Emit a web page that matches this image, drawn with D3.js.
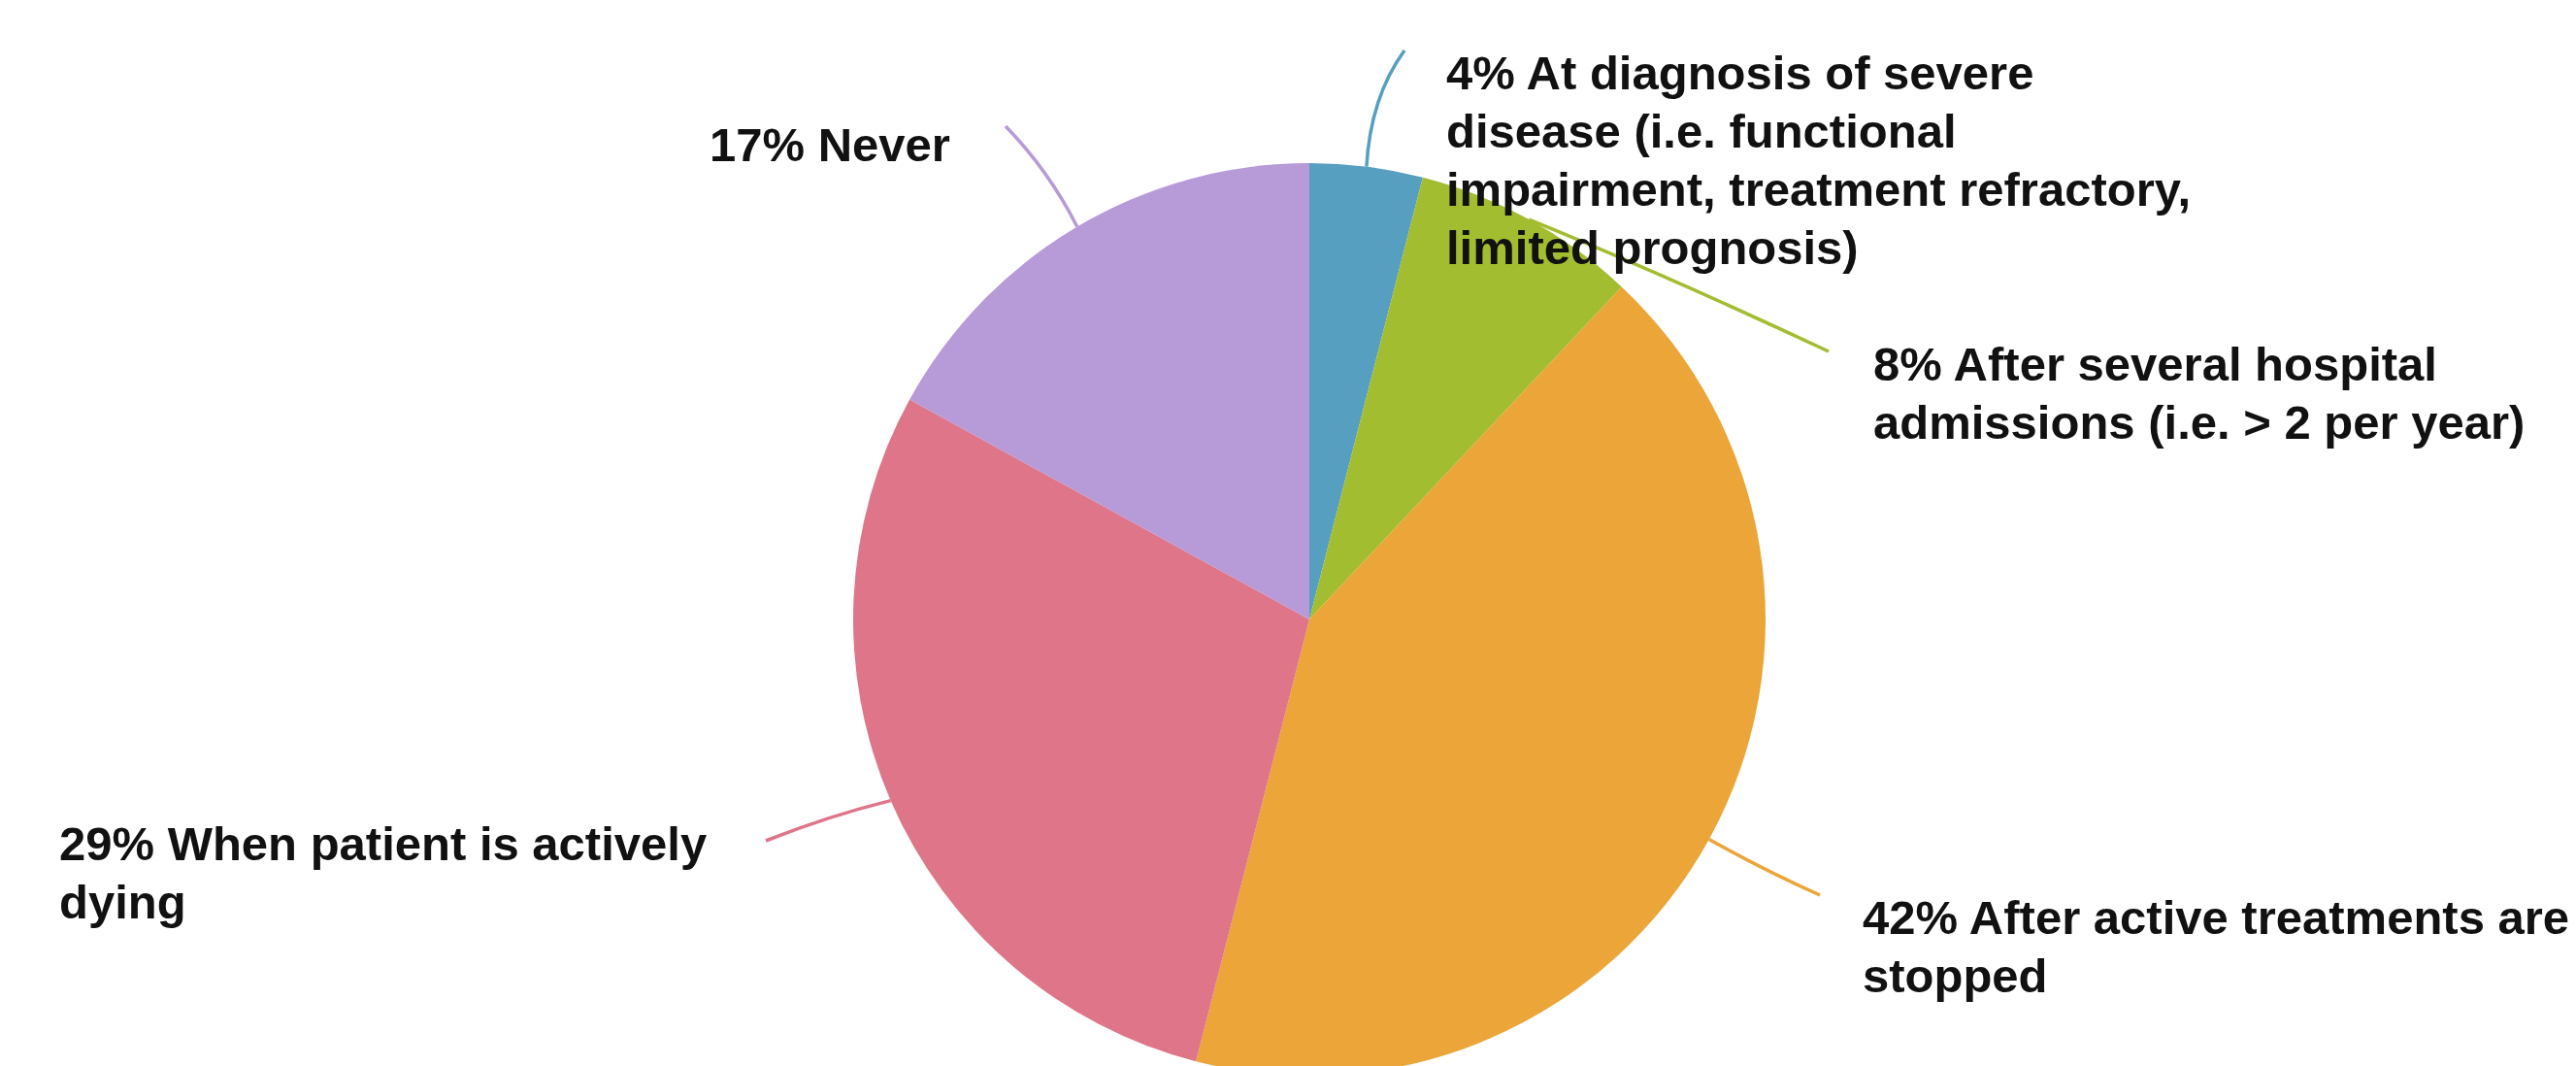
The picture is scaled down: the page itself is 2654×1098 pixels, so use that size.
<!DOCTYPE html>
<html>
<head>
<meta charset="utf-8">
<script src="https://cdn.jsdelivr.net/npm/d3@7"></script>
<style>
  html, body { margin: 0; padding: 0; background: #ffffff; }
  svg { display: block; }
  .label { font-family: "Liberation Sans", Arial, Helvetica, sans-serif; font-weight: bold; font-size: 49px; fill: #111111; }
</style>
</head>
<body>
<svg id="chart" width="2654" height="1098"></svg>
<script>
// Share of responses per timing category, clockwise from 12 o'clock
const categories = [
  "At diagnosis of severe disease (i.e. functional impairment, treatment refractory, limited prognosis)",
  "After several hospital admissions (i.e. > 2 per year)",
  "After active treatments are stopped",
  "When patient is actively dying",
  "Never"
];
const values = [4, 8, 42, 29, 17];

// Label text broken into display lines
const labelLines = [
  ["4% At diagnosis of severe", "disease (i.e. functional", "impairment, treatment refractory,", "limited prognosis)"],
  ["8% After several hospital", "admissions (i.e. > 2 per year)"],
  ["42% After active treatments are", "stopped"],
  ["29% When patient is actively", "dying"],
  ["17% Never"]
];

const colors = ["#569fc0", "#a3bd31", "#eba538", "#df7588", "#b79ad8"];

// Layout
const W = 2654, H = 1098;
const cx = 1349, cy = 638, R = 470;
const lineGap = 60;

// Label anchors (text start and first baseline) and leader end / bend points
const labelLayout = [
  { x: 1490, y: 92,  end: [1447, 52],  bend: [1412, 100] },
  { x: 1930, y: 392, end: [1884, 362], bend: [1720, 285] },
  { x: 1919, y: 962, end: [1875, 922], bend: [1815, 895] },
  { x: 61,   y: 886, end: [789, 866],  bend: [855, 840] },
  { x: 731,  y: 166, end: [1036, 130], bend: [1080, 175] }
];

const svg = d3.select("#chart");
const g = svg.append("g").attr("transform", `translate(${cx},${cy})`);

const pie = d3.pie().sort(null).value(d => d);
const arcs = pie(values);
const arc = d3.arc().innerRadius(0).outerRadius(R);

g.selectAll("path.slice")
  .data(arcs)
  .join("path")
  .attr("class", "slice")
  .attr("d", arc)
  .attr("fill", (d, i) => colors[i]);

// Leader lines: from slice mid-angle on the rim to the label
const rim = d3.arc().innerRadius(R).outerRadius(R);
const leaders = svg.append("g");
arcs.forEach((d, i) => {
  const [px, py] = rim.centroid(d);
  const L = labelLayout[i];
  const p = d3.path();
  p.moveTo(cx + px, cy + py);
  p.quadraticCurveTo(L.bend[0], L.bend[1], L.end[0], L.end[1]);
  leaders.append("path")
    .attr("d", p.toString())
    .attr("fill", "none")
    .attr("stroke", colors[i])
    .attr("stroke-width", 3.5);
});

// Labels
const labels = svg.append("g");
labelLines.forEach((lines, i) => {
  const L = labelLayout[i];
  const t = labels.append("text").attr("class", "label")
    .attr("x", L.x).attr("y", L.y);
  lines.forEach((s, k) => {
    t.append("tspan").attr("x", L.x).attr("y", L.y + k * lineGap).text(s);
  });
});
</script>
</body>
</html>
